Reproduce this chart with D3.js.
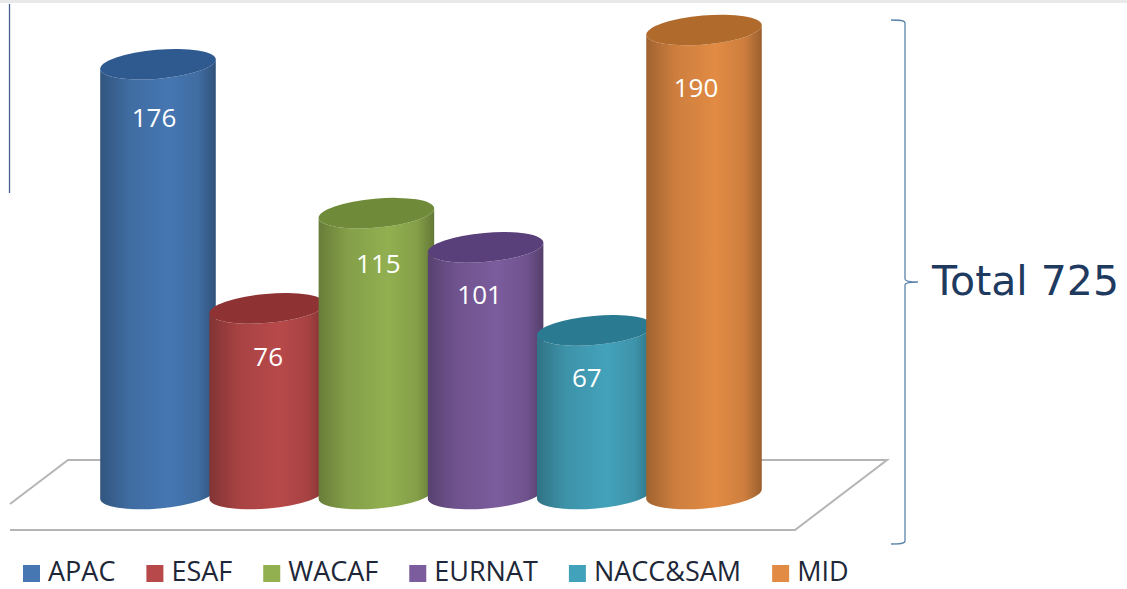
<!DOCTYPE html>
<html>
<head>
<meta charset="utf-8">
<script src="https://cdn.jsdelivr.net/npm/d3@7"></script>
<style>
  html, body { margin: 0; padding: 0; background: #fff; overflow: hidden; }
  svg { display: block; }
</style>
</head>
<body>
<div id="chart"></div>
<script>
const WIDTH = 1127, HEIGHT = 589;

// chart data
const regions = ["APAC", "ESAF", "WACAF", "EURNAT", "NACC&SAM", "MID"];
const counts = [176, 76, 115, 101, 67, 190];
const totalLabel = "Total 725";

// colours per region
const bodyColors = ["#4677b2", "#b8494a", "#92b050", "#7b5c9d", "#43a2bb", "#e28b44"];
const topColors = ["#2f5a8f", "#8f3233", "#6f8a38", "#59407a", "#2a7a92", "#b06a2c"];

// labels don't sit quite centred on the cylinders in the original
const labelNudgeX = [-4, 1, 2, -6, -8, -8];
const labelNudgeY = [-3, 0, -1, -3, 0, 0];

const RX = 58, RY = 14.5, TILT = -5;

const svg = d3.select("#chart").append("svg").attr("width", WIDTH).attr("height", HEIGHT);
const defs = svg.append("defs");

const x = d3.scalePoint().domain(regions).range([158, 704]);
const y = d3.scaleLinear().domain([0, 190]).range([494, 30]);
const labelY = d3.scaleLinear().domain([67, 190]).range([378, 88]);

// top strip and stray rule from the source screenshot
svg.append("rect").attr("width", WIDTH).attr("height", 3).attr("fill", "#e9e9e9");
svg.append("line").attr("x1", 9.5).attr("x2", 9.5).attr("y1", 4).attr("y2", 193)
  .attr("stroke", "#46608f").attr("stroke-width", 1.3);

// floor
svg.append("path")
  .attr("d", "M10,504L68,460L887,460L795,530L10,530")
  .attr("fill", "#fff")
  .attr("stroke", "#b5b5b5")
  .attr("stroke-width", 2);

// gradients, one per cylinder
regions.forEach((r, i) => {
  const base = d3.color(bodyColors[i]);
  const grad = defs.append("linearGradient").attr("id", "grad" + i);
  [
    [0, base.darker(0.95)],
    [0.25, base.darker(0.28)],
    [0.6, base],
    [0.85, base.darker(0.28)],
    [1, base.darker(1.05)]
  ].forEach((s) => {
    grad.append("stop").attr("offset", s[0]).attr("stop-color", s[1]);
  });
});

const dx = RX * Math.cos(TILT * Math.PI / 180);
const dy = RX * Math.sin(TILT * Math.PI / 180);

function cylinderPath(d) {
  const cx = x(d.region);
  const top = y(d.value);
  const base = y(0);
  return `M${cx - dx},${top - dy}L${cx - dx},${base - dy}` +
    `A${RX},${RY} ${TILT} 0 0 ${cx + dx},${base + dy}` +
    `L${cx + dx},${top + dy}` +
    `A${RX},${RY} ${TILT} 0 1 ${cx - dx},${top - dy}Z`;
}

const rows = regions.map((r, i) => ({ region: r, value: counts[i], i: i }));

const cylinders = svg.selectAll(".cylinder").data(rows).enter().append("g").attr("class", "cylinder");

cylinders.append("path")
  .attr("d", cylinderPath)
  .attr("fill", (d) => `url(#grad${d.i})`);

cylinders.append("ellipse")
  .attr("rx", RX)
  .attr("ry", RY)
  .attr("transform", (d) => `translate(${x(d.region)},${y(d.value)}) rotate(${TILT})`)
  .attr("fill", (d) => topColors[d.i]);

// value labels go on top of everything
svg.selectAll(".value").data(rows).enter().append("text")
  .attr("class", "value")
  .attr("x", (d) => x(d.region) + labelNudgeX[d.i])
  .attr("y", (d) => labelY(d.value) + labelNudgeY[d.i])
  .attr("dy", "0.35em")
  .attr("text-anchor", "middle")
  .attr("font-family", "'Open Sans'")
  .attr("font-size", 26)
  .attr("fill", "#fff")
  .text((d) => d.value);

// brace on the right
svg.append("path")
  .attr("d", "M891,20C899,20 905,20 905,23L905,279C905,281 908,282 918,282C908,282 905,283 905,285L905,541C905,544 899,544 891,544")
  .attr("fill", "none")
  .attr("stroke", "#5c84ab")
  .attr("stroke-width", 1.3);

svg.append("text")
  .attr("x", 932)
  .attr("y", 295)
  .attr("font-family", "'DejaVu Sans'")
  .attr("font-size", 41)
  .attr("fill", "#1f3a5f")
  .text(totalLabel);

// legend, laid out from the measured text widths
let legendX = 23;
regions.forEach((r, i) => {
  svg.append("rect")
    .attr("x", legendX).attr("y", 565).attr("width", 17).attr("height", 17)
    .attr("fill", bodyColors[i]);
  const t = svg.append("text")
    .attr("x", legendX + 25)
    .attr("y", 581)
    .attr("font-family", "'Open Sans'")
    .attr("font-size", 27)
    .attr("fill", "#1d2738")
    .text(r);
  legendX += 25 + t.node().getComputedTextLength() + 31;
});
</script>
</body>
</html>
